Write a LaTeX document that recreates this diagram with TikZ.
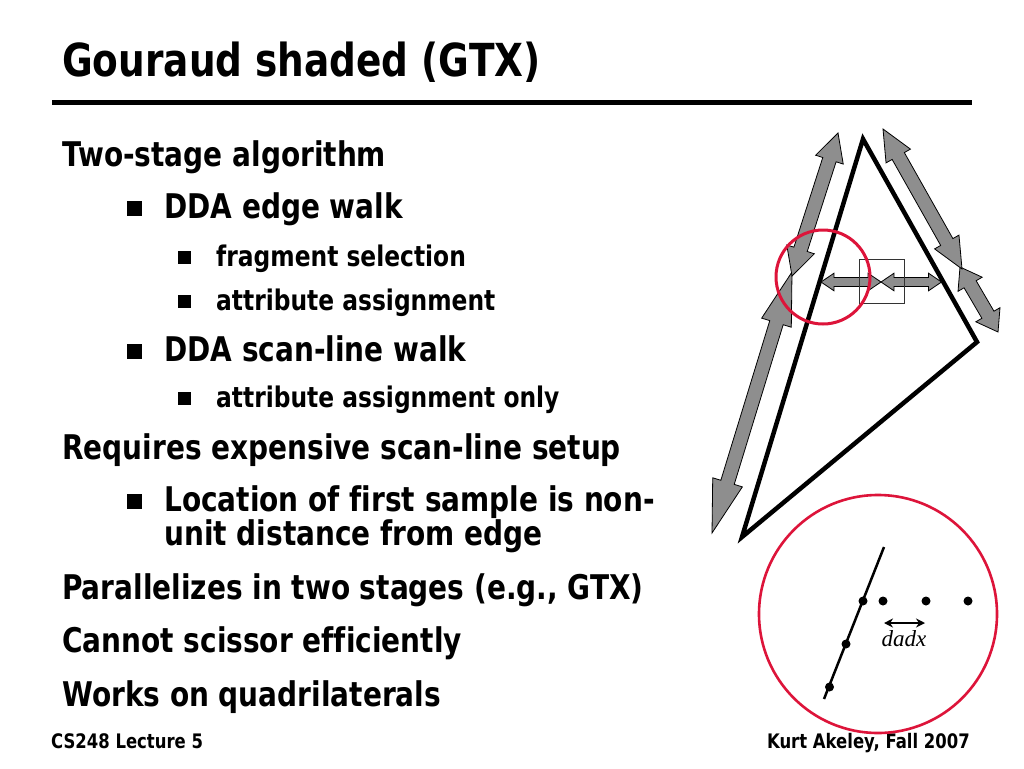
\documentclass[tikz,border=0pt]{standalone}
\usepackage{fontspec}
\setmainfont[FakeStretch=0.823,Ligatures={NoCommon}]{DejaVu Sans}
\newfontfamily\dadxfont{Liberation Serif}
\usetikzlibrary{calc,arrows.meta}
\definecolor{slidered}{RGB}{221,20,58}
\definecolor{arrowgray}{RGB}{142,142,142}
\tikzset{
  titletxt/.style={anchor=base west, inner sep=0pt, font=\bfseries\fontsize{45.5}{50}\selectfont},
  bodytxt/.style={anchor=base west, inner sep=0pt, font=\bfseries\fontsize{34}{40}\selectfont},
  subtxt/.style={anchor=base west, inner sep=0pt, font=\bfseries\fontsize{28.4}{34}\selectfont},
  foottxt/.style={inner sep=0pt, font=\bfseries\fontsize{20}{24}\selectfont},
  bigbullet/.style={fill=black, inner sep=0pt, minimum size=15pt, draw=none},
  smallbullet/.style={fill=black, inner sep=0pt, minimum size=13pt, draw=none},
  tri/.style={draw=black, line width=4.5pt, line join=miter},
  blockarr/.style={fill=arrowgray, draw=black, line width=0.8pt, line join=miter},
  redring/.style={draw=slidered, line width=3pt},
  dot/.style={circle, fill=black, inner sep=0pt, minimum size=9pt},
  probe/.style={draw=black!80, line width=1pt},
}
% double block arrow: #1,#2 end points, #3 head length, #4 head half width, #5 shaft half width
\newcommand{\blockarrow}[5]{%
  \draw[blockarr] (#1)
    -- ($(#1)!#3!(#2)!#4!90:(#2)$)
    -- ($(#1)!#3!(#2)!#5!90:(#2)$)
    -- ($(#2)!#3!(#1)!#5!-90:(#1)$)
    -- ($(#2)!#3!(#1)!#4!-90:(#1)$)
    -- (#2)
    -- ($(#2)!#3!(#1)!#4!90:(#1)$)
    -- ($(#2)!#3!(#1)!#5!90:(#1)$)
    -- ($(#1)!#3!(#2)!#5!-90:(#2)$)
    -- ($(#1)!#3!(#2)!#4!-90:(#2)$)
    -- cycle;}
\begin{document}
\begin{tikzpicture}[x=1pt,y=-1pt]
\useasboundingbox[fill=white] (0,0) rectangle (1024,768);

% title and rule
\node[titletxt] (title) at (62,77) {Gouraud shaded (GTX)};
\coordinate (ruleL) at (52,102);
\coordinate (ruleR) at (972,102);
\draw[line width=5pt] (ruleL) -- (ruleR);

% body text
\node[bodytxt] (l1) at (62,166) {Two-stage algorithm};
\node[bigbullet] (b1) at (134.5,208.5) {};
\node[bodytxt] (l2) at (164,218) {DDA edge walk};
\node[smallbullet] (b2) at (184.5,257.5) {};
\node[subtxt] (l3) at (216,266) {fragment selection};
\node[smallbullet] (b3) at (184.5,301.5) {};
\node[subtxt] (l4) at (216,310) {attribute assignment};
\node[bigbullet] (b4) at (134.5,351.5) {};
\node[bodytxt] (l5) at (164,361) {DDA scan-line walk};
\node[smallbullet] (b5) at (184.5,398.5) {};
\node[subtxt] (l6) at (216,407) {attribute assignment only};
\node[bodytxt] (l7) at (62,459) {Requires expensive scan-line setup};
\node[bigbullet] (b6) at (134.5,501.5) {};
\node[bodytxt] (l8) at (164,511) {Location of first sample is non-};
\node[bodytxt] (l9) at (164,545) {unit distance from edge};
\node[bodytxt] (l10) at (62,599) {Parallelizes in two stages (e.g., GTX)};
\node[bodytxt] (l11) at (62,652) {Cannot scissor efficiently};
\node[bodytxt] (l12) at (62,706) {Works on quadrilaterals};

% footer
\node[foottxt, anchor=base west] (f1) at (51,748) {CS248 Lecture 5};
\node[foottxt, anchor=base east] (f2) at (970,748) {Kurt Akeley, Fall 2007};

% triangle
\coordinate (ta) at (863,139);
\coordinate (tb) at (977,342);
\coordinate (tc) at (742,537);
\draw[tri] (ta) -- (tb) -- (tc) -- cycle;

% edge arrows
\coordinate (ulA) at (838,133);
\coordinate (ulB) at (792,276);
\coordinate (llA) at (792,272);
\coordinate (llB) at (712,533);
\coordinate (urA) at (883,129);
\coordinate (urB) at (962,269);
\coordinate (lrA) at (960,267);
\coordinate (lrB) at (998,332);
\blockarrow{llA}{llB}{53pt}{15.5pt}{7pt}
\blockarrow{ulA}{ulB}{28pt}{14.5pt}{7pt}
\blockarrow{lrA}{lrB}{20pt}{14pt}{7pt}
\blockarrow{urA}{urB}{31pt}{14pt}{7pt}

% scan-line arrows and sample box
\coordinate (hL) at (821,282);
\coordinate (hM) at (881,282);
\coordinate (hR) at (941.5,282);
\blockarrow{hL}{hM}{13pt}{8.8pt}{4.5pt}
\blockarrow{hM}{hR}{13pt}{8.8pt}{4.5pt}
\coordinate (boxA) at (859,259);
\coordinate (boxB) at (904,303);
\draw[probe] (boxA) rectangle (boxB);

% small red circle
\coordinate (c1) at (823,277);
\draw[redring] (c1) circle[radius=47pt];

% big red circle with detail
\coordinate (c2) at (878,614);
\draw[redring, line width=2.6pt] (c2) circle[radius=119pt];
\coordinate (eT) at (884,547);
\coordinate (eB) at (824,699);
\draw[line width=2.5pt] (eT) -- (eB);
\node[dot] (d1) at (863,601) {};
\node[dot] (d2) at (846,644) {};
\node[dot] (d3) at (829.5,687) {};
\node[dot] (d4) at (883,601) {};
\node[dot] (d5) at (926,601) {};
\node[dot] (d6) at (968,601) {};
\coordinate (aL) at (884,623);
\coordinate (aR) at (925,623);
\draw[line width=2.2pt, {Stealth[length=9pt,width=9pt]}-{Stealth[length=9pt,width=9pt]}] (aL) -- (aR);
\node[inner sep=0pt, anchor=base, font=\dadxfont\itshape\fontsize{23}{27}\selectfont] (dadx) at (904,646) {dadx};
\end{tikzpicture}
\end{document}
